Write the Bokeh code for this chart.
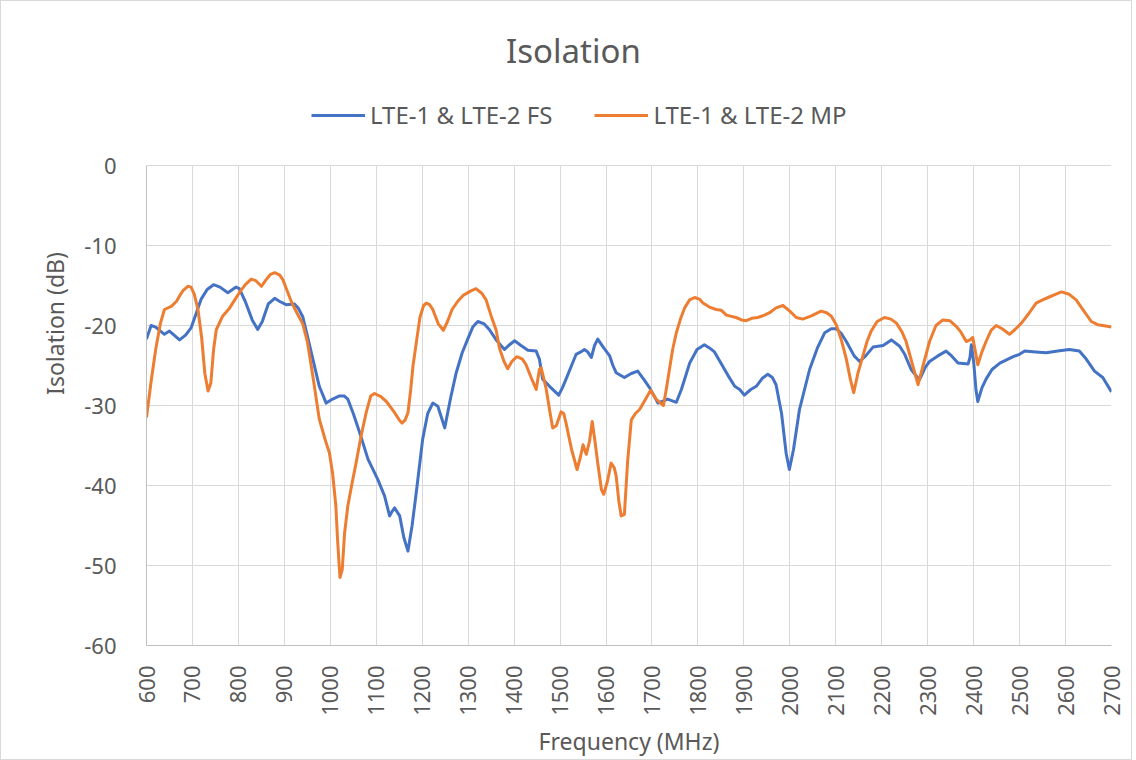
import math
from bokeh.plotting import figure
from bokeh.models import (Legend, LegendItem, FixedTicker, Range1d, Label, BoxAnnotation,
                          PrintfTickFormatter)
from bokeh.embed import file_html
from bokeh.resources import INLINE

title_text = "Isolation"
x_label = "Frequency (MHz)"
y_label = "Isolation (dB)"
series_names = ["LTE-1 & LTE-2 FS", "LTE-1 & LTE-2 MP"]
x_ticks = list(range(600, 2701, 100))
y_ticks = list(range(-60, 1, 10))

fs_freq = [600, 610, 620, 639, 650, 660, 672, 685, 697, 708, 719, 732, 746, 760, 777, 795, 802, 815, 830, 842,
           852, 865, 879, 890, 904, 922, 930, 940, 951, 962, 976, 991, 1005, 1020, 1030, 1038, 1050, 1064, 1082, 1103,
           1118, 1129, 1135, 1140, 1151, 1160, 1169, 1178, 1187, 1201, 1212, 1223, 1234, 1249, 1262, 1274, 1287, 1299,
           1310, 1321, 1335, 1346, 1361, 1379, 1390, 1401, 1415, 1430, 1448, 1455, 1462, 1477, 1497, 1505, 1513, 1525,
           1535, 1545, 1553, 1560, 1568, 1575, 1582, 1595, 1608, 1615, 1622, 1640, 1655, 1669, 1683, 1695, 1713, 1734,
           1753, 1764, 1782, 1798, 1814, 1825, 1836, 1854, 1865, 1880, 1891, 1901, 1915, 1927, 1940, 1952, 1962, 1970,
           1982, 1992, 1999, 2008, 2021, 2043, 2060, 2076, 2090, 2101, 2112, 2123, 2140, 2152, 2165, 2181, 2203, 2221,
           2239, 2250, 2264, 2282, 2295, 2304, 2322, 2340, 2352, 2366, 2388, 2392, 2395, 2400, 2405, 2409, 2418, 2427,
           2440, 2457, 2486, 2500, 2511, 2535, 2558, 2583, 2608, 2630, 2645, 2663, 2681, 2700]
fs_db = [-21.7, -20.0, -20.2, -21.1, -20.7, -21.2, -21.8, -21.2, -20.3, -18.5, -16.7, -15.5, -14.9, -15.2, -15.9,
         -15.2, -15.4, -17.0, -19.3, -20.5, -19.5, -17.3, -16.6, -17.0, -17.4, -17.3, -17.8, -18.9, -21.5, -24.2,
         -27.6, -29.7, -29.2, -28.8, -28.8, -29.2, -31.0, -33.4, -36.7, -39.2, -41.3, -43.8, -43.2, -42.8, -43.8,
         -46.5, -48.2, -45.0, -40.9, -34.2, -31.0, -29.7, -30.1, -32.8, -29.0, -25.9, -23.4, -21.7, -20.2, -19.5,
         -19.8, -20.5, -21.8, -23.0, -22.4, -21.9, -22.5, -23.1, -23.2, -24.2, -26.7, -27.6, -28.7, -27.8, -26.7,
         -25.0, -23.6, -23.3, -23.0, -23.3, -24.0, -22.5, -21.7, -22.8, -23.8, -25.0, -25.9, -26.5, -26.0, -25.7,
         -26.8, -27.8, -29.7, -29.2, -29.6, -28.0, -24.7, -23.0, -22.4, -22.8, -23.3, -25.1, -26.2, -27.6, -28.0,
         -28.7, -28.0, -27.6, -26.6, -26.1, -26.5, -27.4, -31.0, -36.0, -38.0, -35.5, -30.5, -25.5, -22.8, -20.9,
         -20.4, -20.4, -21.0, -22.0, -23.8, -24.5, -23.8, -22.7, -22.5, -21.8, -22.6, -23.6, -25.5, -26.8, -25.2,
         -24.5, -23.8, -23.2, -23.8, -24.7, -24.8, -24.0, -22.4, -24.5, -28.0, -29.5, -27.8, -26.7, -25.5, -24.7,
         -23.9, -23.6, -23.2, -23.3, -23.4, -23.2, -23.0, -23.2, -24.2, -25.7, -26.5, -28.3]

mp_freq = [600, 610, 620, 630, 639, 654, 665, 672, 680, 690, 697, 704, 712, 720, 727, 734, 740, 746, 752, 766,
           781, 792, 802, 815, 828, 838, 850, 860, 870, 879, 890, 897, 905, 915, 928, 940, 950, 962, 976, 990,
           998, 1005, 1012, 1016, 1021, 1026, 1031, 1038, 1047, 1056, 1067, 1078, 1088, 1096, 1110, 1122, 1140, 1150,
           1156, 1163, 1169, 1175, 1180, 1187, 1195, 1203, 1209, 1216, 1223, 1235, 1246, 1255, 1265, 1277, 1290, 1305,
           1317, 1330, 1339, 1350, 1361, 1368, 1378, 1386, 1395, 1406, 1418, 1426, 1437, 1448, 1455, 1459, 1464, 1470,
           1477, 1484, 1492, 1502, 1508, 1513, 1525, 1537, 1544, 1550, 1557, 1564, 1570, 1576, 1582, 1590, 1595, 1603,
           1611, 1618, 1622, 1628, 1633, 1640, 1647, 1655, 1664, 1673, 1685, 1697, 1709, 1717, 1725, 1731, 1738, 1745,
           1753, 1762, 1771, 1782, 1793, 1803, 1811, 1825, 1840, 1851, 1862, 1883, 1895, 1905, 1917, 1930, 1945, 1956,
           1970, 1985, 2000, 2014, 2028, 2047, 2068, 2080, 2090, 2101, 2112, 2123, 2132, 2139, 2148, 2159, 2168, 2177,
           2190, 2206, 2220, 2232, 2244, 2253, 2265, 2279, 2290, 2304, 2318, 2333, 2348, 2362, 2372, 2384, 2392, 2398,
           2403, 2409, 2418, 2427, 2438, 2449, 2462, 2478, 2490, 2504, 2520, 2536, 2550, 2562, 2578, 2591, 2608, 2623,
           2640, 2656, 2670, 2681, 2700]
mp_db = [-31.5, -27.0, -23.0, -19.8, -18.0, -17.6, -17.0, -16.3, -15.6, -15.1, -15.2, -16.1, -18.0, -21.5, -26.0,
         -28.2, -27.2, -23.0, -20.5, -18.8, -17.8, -16.8, -15.9, -14.9, -14.2, -14.4, -15.1, -14.3, -13.6, -13.4,
         -13.7, -14.3, -15.5, -17.0, -18.5, -19.8, -22.0, -26.3, -31.7, -34.5, -35.9, -38.5, -42.5, -47.0, -51.5,
         -50.5, -46.0, -42.6, -39.8, -37.2, -33.8, -30.9, -28.8, -28.5, -28.9, -29.5, -30.9, -31.8, -32.2, -31.8,
         -30.9, -28.0, -25.0, -22.2, -19.0, -17.5, -17.2, -17.4, -18.0, -19.8, -20.6, -19.5, -18.0, -17.0, -16.2,
         -15.7, -15.4, -16.0, -16.8, -18.8, -20.6, -22.8, -24.5, -25.4, -24.5, -23.9, -24.2, -24.9, -26.5, -28.0,
         -25.5, -25.3, -26.5, -28.0, -30.5, -32.8, -32.5, -30.8, -31.0, -32.2, -35.5, -38.0, -36.5, -34.9, -36.1,
         -34.5, -32.0, -34.5, -37.2, -40.5, -41.1, -39.5, -37.2, -37.8, -38.8, -42.0, -43.8, -43.6, -37.0, -31.8,
         -31.0, -30.5, -29.3, -28.1, -29.2, -29.6, -30.0, -28.0, -25.5, -23.0, -20.9, -19.2, -17.8, -16.8, -16.5,
         -16.7, -17.2, -17.7, -18.0, -18.1, -18.7, -19.0, -19.3, -19.4, -19.1, -19.0, -18.7, -18.4, -17.8, -17.5,
         -18.2, -19.0, -19.2, -18.8, -18.2, -18.4, -18.8, -19.9, -21.8, -24.2, -26.8, -28.4, -26.0, -23.8, -22.0,
         -20.7, -19.5, -19.0, -19.2, -19.7, -20.8, -22.0, -24.5, -27.4, -25.0, -22.0, -20.0, -19.3, -19.4, -20.1,
         -20.8, -22.0, -21.8, -21.5, -23.0, -24.9, -23.3, -22.0, -20.6, -20.0, -20.4, -21.1, -20.5, -19.7, -18.5,
         -17.2, -16.8, -16.5, -16.1, -15.8, -16.1, -16.8, -18.2, -19.5, -19.9, -20.0, -20.2]

FONT = "Noto Sans"
TXT = "#595959"
Y_MIN, Y_MAX = -60, 0
HEADROOM = 20.5   # space above the plot area (in dB units) that hosts title and legend

p = figure(frame_width=965, frame_height=644, output_backend="svg", toolbar_location=None,
           x_range=Range1d(600, 2700), y_range=Range1d(Y_MIN, Y_MAX + HEADROOM),
           min_border_left=145, min_border_right=20, min_border_top=0, min_border_bottom=100)
p.styles = {"border": "1px solid #D9D9D9"}
p.outline_line_color = None
p.background_fill_color = "white"
p.border_fill_color = "white"

r_fs = p.line(fs_freq, fs_db, line_color="#4472C4", line_width=3, line_join="round")
r_mp = p.line(mp_freq, mp_db, line_color="#ED7D31", line_width=3, line_join="round")

for ax in (p.xaxis[0], p.yaxis[0]):
    ax.axis_line_color = "#BFBFBF"
    ax.axis_line_width = 1
    ax.major_tick_line_color = None
    ax.minor_tick_line_color = None
    ax.major_label_text_font = FONT
    ax.major_label_text_font_size = "22px"
    ax.major_label_text_color = TXT
    ax.axis_label_text_font = FONT
    ax.axis_label_text_font_size = "23px"
    ax.axis_label_text_color = TXT
    ax.axis_label_text_font_style = "normal"

p.xaxis[0].ticker = FixedTicker(ticks=x_ticks)
p.yaxis[0].ticker = FixedTicker(ticks=y_ticks)
p.yaxis[0].bounds = (Y_MIN, Y_MAX)
p.yaxis[0].formatter = PrintfTickFormatter(format="%d")
p.xaxis[0].major_label_orientation = math.pi / 2
p.xaxis[0].major_label_standoff = 14
p.yaxis[0].major_label_standoff = 24
p.xaxis[0].axis_label = x_label
p.yaxis[0].axis_label = y_label
p.xaxis[0].axis_label_standoff = 6
p.yaxis[0].axis_label_standoff = 10

p.xgrid[0].ticker = FixedTicker(ticks=x_ticks)
p.ygrid[0].ticker = FixedTicker(ticks=y_ticks)
p.xgrid.grid_line_color = "#D9D9D9"
p.ygrid.grid_line_color = "#D9D9D9"
p.xgrid.grid_line_width = 1
p.ygrid.grid_line_width = 1

# blank header area above the plot area (hides the grid lines there)
p.add_layout(BoxAnnotation(bottom=Y_MAX + 0.07, fill_color="white", fill_alpha=1.0, line_color=None))

title = Label(x=427, y=595, x_units="screen", y_units="screen", text=title_text,
              text_align="center", text_baseline="alphabetic", text_font=FONT,
              text_font_size="33px", text_color=TXT)
p.add_layout(title)

legend = Legend(items=[LegendItem(label=series_names[0], renderers=[r_fs]),
                       LegendItem(label=series_names[1], renderers=[r_mp])],
                location=(165, 514), orientation="horizontal",
                glyph_width=54, glyph_height=20, label_standoff=5, spacing=42,
                padding=0, margin=0, border_line_color=None, background_fill_alpha=0,
                label_text_font=FONT, label_text_font_size="24px", label_text_color=TXT)
p.add_layout(legend)

open("out.html", "w").write(file_html(p, INLINE))
